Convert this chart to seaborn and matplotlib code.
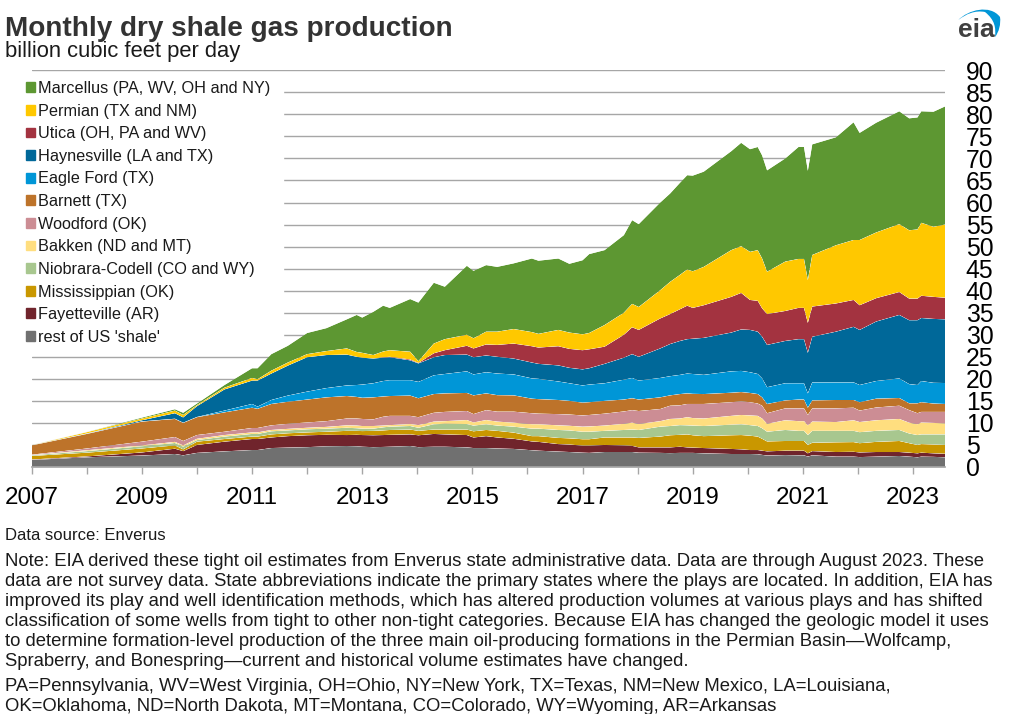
import numpy as np
import pandas as pd
import matplotlib
matplotlib.use("Agg")
import matplotlib.pyplot as plt
from matplotlib.patches import Patch, PathPatch, Rectangle
from matplotlib.path import Path
import seaborn as sns
import seaborn.objects as so

# months as decimal years, only the points
dates = [2007.00, 2008.00, 2009.00, 2009.60, 2009.75, 2010.00, 2010.50, 2011.00, 2011.10, 2011.35, 2011.65,
         2012.00, 2012.35, 2012.72, 2012.90, 2013.00, 2013.20, 2013.38, 2013.50, 2013.87, 2014.02, 2014.30,
         2014.50, 2014.90, 2015.02, 2015.25, 2015.45, 2015.75, 2016.08, 2016.20, 2016.56, 2016.76, 2017.00,
         2017.12, 2017.40, 2017.75, 2017.90, 2018.02, 2018.41, 2018.59, 2018.77, 2018.90, 2019.00, 2019.20,
         2019.70, 2019.88, 2020.04, 2020.18, 2020.26, 2020.35, 2020.68, 2020.92, 2021.02, 2021.09, 2021.17,
         2021.60, 2021.92, 2022.03, 2022.33, 2022.75, 2022.93, 2023.08, 2023.15, 2023.37, 2023.58]

# upper edge of each band (Bcf/d)
rest_top = [1.6, 2.2, 2.6, 2.95, 2.65, 3.2, 3.55, 3.85, 3.85, 4.3, 4.4,
            4.5, 4.7, 4.76, 4.7, 4.6, 4.5, 4.55, 4.6, 4.76, 4.5, 4.6,
            4.6, 4.45, 4.3, 4.3, 4.2, 4.1, 3.8, 3.7, 3.5, 3.4, 3.25,
            3.2, 3.4, 3.4, 3.4, 3.25, 3.2, 3.15, 3.2, 3.2, 3.2, 3.1,
            2.95, 2.95, 2.95, 2.9, 2.75, 2.6, 2.7, 2.65, 2.65, 2.35, 2.65,
            2.35, 2.35, 2.25, 2.35, 2.5, 2.35, 2.2, 2.35, 2.3, 2.2]
fayetteville_top = [1.7, 2.4, 3.3, 4.15, 3.6, 5.0, 5.75, 6.35, 6.35, 6.7, 7.0,
                    7.2, 7.3, 7.25, 7.3, 7.25, 7.2, 7.25, 7.3, 7.4, 7.2, 7.5,
                    7.4, 7.25, 6.7, 7.0, 6.7, 6.4, 5.8, 5.7, 5.2, 5.1, 4.85,
                    4.85, 5.0, 4.9, 4.8, 4.45, 4.45, 4.45, 4.6, 4.45, 4.4, 4.3,
                    4.1, 4.0, 3.85, 3.85, 3.7, 3.55, 3.7, 3.7, 3.7, 3.1, 3.6,
                    3.4, 3.45, 3.3, 3.4, 3.4, 3.25, 3.1, 3.25, 3.1, 3.0]
mississippian_top = [2.5, 3.25, 4.2, 4.9, 4.0, 5.75, 6.35, 6.9, 6.9, 7.4, 7.65,
                     7.85, 8.0, 8.2, 8.2, 8.15, 8.2, 8.3, 8.4, 8.5, 8.2, 8.5,
                     8.5, 8.5, 8.1, 8.4, 8.2, 7.8, 7.0, 7.0, 6.6, 6.5, 6.3,
                     6.3, 6.7, 6.7, 6.7, 6.6, 6.9, 7.2, 7.3, 7.4, 7.2, 7.0,
                     7.2, 7.25, 7.1, 6.9, 6.4, 5.8, 5.9, 5.9, 5.9, 5.0, 5.5,
                     5.6, 5.65, 5.4, 5.7, 5.9, 5.4, 5.0, 5.2, 5.1, 5.0]
niobrara_top = [2.65, 3.6, 4.7, 5.45, 4.6, 6.1, 6.9, 7.5, 7.5, 8.1, 8.3,
                8.55, 8.7, 8.9, 8.8, 8.7, 8.7, 9.0, 9.15, 9.3, 8.9, 9.7,
                9.8, 9.75, 9.4, 9.7, 9.4, 9.15, 8.7, 8.7, 8.4, 8.3, 8.0,
                8.0, 8.2, 8.4, 8.5, 8.4, 9.15, 9.3, 9.5, 9.45, 9.4, 9.3,
                9.6, 9.7, 9.5, 9.3, 8.8, 8.0, 8.4, 8.2, 8.2, 7.25, 8.2,
                8.2, 8.2, 7.9, 8.2, 8.4, 7.6, 7.25, 7.4, 7.4, 7.4]
bakken_top = [2.7, 3.8, 4.9, 5.7, 4.9, 6.4, 7.25, 7.85, 7.85, 8.4, 8.65,
              8.9, 9.1, 9.45, 9.4, 9.3, 9.3, 9.4, 9.5, 9.75, 9.5, 10.3,
              10.4, 10.65, 10.1, 10.65, 10.3, 10.05, 9.7, 9.7, 9.45, 9.35, 9.15,
              9.2, 9.4, 9.8, 10.05, 9.75, 10.4, 10.9, 11.0, 11.3, 11.1, 11.0,
              11.6, 11.8, 11.7, 11.6, 11.0, 9.8, 10.6, 10.4, 10.4, 9.45, 10.3,
              10.2, 10.6, 10.2, 10.6, 10.9, 10.05, 9.7, 10.1, 10.0, 9.9]
woodford_top = [2.8, 4.2, 5.75, 6.8, 5.9, 7.25, 8.0, 8.85, 8.85, 9.45, 9.8,
                10.1, 10.4, 11.0, 11.0, 10.9, 10.8, 11.4, 11.6, 11.6, 11.3, 12.3,
                12.5, 12.7, 12.0, 12.9, 12.55, 12.55, 12.2, 12.1, 12.0, 11.9, 11.7,
                11.8, 12.1, 12.6, 12.9, 12.7, 13.15, 13.9, 14.0, 14.3, 14.3, 14.3,
                14.7, 14.9, 14.7, 14.4, 13.9, 12.2, 13.3, 13.3, 13.3, 11.8, 13.3,
                13.3, 13.45, 12.8, 13.5, 13.9, 12.9, 12.2, 12.5, 12.5, 12.5]
barnett_top = [4.9, 7.5, 10.3, 10.9, 10.0, 11.3, 12.4, 13.45, 13.2, 14.3, 14.8,
               15.3, 15.8, 16.1, 15.9, 15.7, 15.8, 16.0, 16.1, 16.2, 15.6, 16.55,
               16.7, 16.8, 16.25, 16.7, 16.3, 16.25, 15.5, 15.4, 15.2, 15.0, 14.6,
               14.7, 15.0, 15.3, 15.6, 15.3, 15.8, 16.25, 16.55, 16.7, 16.6, 16.55,
               16.85, 17.0, 16.8, 16.55, 15.8, 14.3, 15.1, 15.3, 15.3, 13.45, 15.1,
               15.2, 15.2, 14.7, 15.5, 15.65, 14.45, 14.45, 14.7, 14.4, 14.3]
eagle_ford_top = [4.9, 7.55, 10.35, 10.95, 10.05, 11.35, 12.8, 14.3, 13.7, 15.2, 16.2,
                  17.1, 17.9, 18.5, 18.6, 18.7, 19.0, 19.5, 19.7, 19.7, 19.3, 20.8,
                  21.1, 21.7, 21.0, 21.5, 21.2, 21.0, 20.1, 20.0, 19.4, 19.0, 18.5,
                  18.7, 19.0, 19.8, 20.2, 19.6, 20.2, 20.6, 20.9, 21.2, 21.1, 20.9,
                  21.7, 21.8, 21.5, 21.1, 20.1, 18.1, 19.0, 19.0, 19.0, 16.7, 19.2,
                  19.2, 19.2, 18.6, 19.5, 20.1, 18.8, 18.6, 19.5, 19.1, 19.05]
haynesville_top = [4.92, 7.6, 10.6, 12.2, 11.25, 13.8, 17.6, 19.6, 19.6, 21.2, 23.0,
                   24.9, 25.4, 25.5, 25.0, 24.8, 24.6, 24.8, 24.9, 24.2, 23.5, 24.9,
                   25.4, 25.5, 24.9, 25.3, 25.0, 24.6, 23.7, 23.4, 23.05, 22.5, 22.15,
                   22.4, 23.4, 24.8, 25.6, 25.0, 26.9, 27.9, 28.6, 29.0, 29.1, 29.3,
                   30.5, 31.2, 31.1, 30.7, 29.55, 27.7, 28.6, 29.0, 29.0, 25.9, 29.55,
                   30.7, 31.8, 31.1, 33.0, 34.5, 33.3, 33.3, 33.8, 33.6, 33.5]
utica_top = [4.92, 7.6, 10.6, 12.2, 11.25, 13.8, 17.6, 19.6, 19.6, 21.2, 23.0,
             24.9, 25.4, 25.5, 25.0, 24.8, 24.6, 24.9, 25.0, 24.4, 23.6, 25.8,
             26.5, 27.5, 26.9, 27.8, 27.7, 28.0, 27.4, 27.1, 27.4, 26.8, 26.5,
             26.7, 27.3, 30.0, 31.7, 31.1, 33.7, 34.7, 35.8, 36.6, 36.1, 36.7,
             38.6, 39.5, 37.9, 37.7, 36.0, 34.7, 35.4, 36.1, 36.1, 32.7, 36.4,
             37.1, 37.9, 36.7, 38.3, 39.7, 38.2, 38.2, 38.85, 38.6, 38.4]
permian_top = [4.95, 7.9, 11.0, 12.8, 11.8, 14.05, 18.0, 20.2, 19.9, 21.85, 23.7,
               25.6, 26.3, 26.9, 26.1, 25.9, 25.4, 26.2, 26.5, 26.15, 24.0, 28.0,
               29.0, 30.0, 29.2, 30.7, 30.7, 31.3, 30.6, 30.2, 31.1, 30.5, 30.1,
               30.4, 32.2, 35.0, 37.0, 36.3, 40.1, 42.0, 43.6, 44.8, 44.4, 45.4,
               49.2, 50.1, 48.8, 49.2, 47.3, 44.3, 46.6, 47.2, 47.2, 42.4, 48.1,
               50.3, 51.5, 51.5, 53.2, 55.1, 53.7, 53.9, 55.4, 54.5, 55.0]
marcellus_top = [5.0, 7.95, 11.2, 13.1, 12.3, 14.4, 18.6, 22.4, 22.4, 25.6, 27.5,
                 30.4, 31.5, 33.5, 34.5, 33.9, 35.2, 36.6, 36.1, 38.1, 37.3, 41.8,
                 40.9, 45.65, 44.5, 45.8, 45.4, 46.2, 47.3, 46.8, 47.3, 46.1, 46.9,
                 48.3, 49.2, 52.6, 56.0, 55.1, 60.0, 62.05, 64.5, 66.2, 66.1, 67.0,
                 71.65, 73.55, 72.1, 72.6, 70.7, 67.3, 70.0, 72.6, 72.6, 67.2, 73.2,
                 74.8, 78.2, 75.8, 78.1, 80.7, 79.1, 79.3, 80.7, 80.6, 81.8]

# bottom of the stack first
plays = ["rest of US 'shale'", "Fayetteville (AR)", "Mississippian (OK)", "Niobrara-Codell (CO and WY)",
         "Bakken (ND and MT)", "Woodford (OK)", "Barnett (TX)", "Eagle Ford (TX)",
         "Haynesville (LA and TX)", "Utica (OH, PA and WV)", "Permian (TX and NM)", "Marcellus (PA, WV, OH and NY)"]
colors = ["#707070", "#70242c", "#c99700", "#a8c78f", "#ffde7f", "#cc8d94",
          "#bd732a", "#0096d7", "#006899", "#a33340", "#ffc800", "#5d9732"]
tops = [rest_top, fayetteville_top, mississippian_top, niobrara_top, bakken_top, woodford_top,
        barnett_top, eagle_ford_top, haynesville_top, utica_top, permian_top, marcellus_top]

y_ticks = list(range(0, 95, 5))
year_ticks = list(range(2007, 2024))
note_lines = [
    "Note: EIA derived these tight oil estimates from Enverus state administrative data. Data are through August 2023. These",
    "data are not survey data. State abbreviations indicate the primary states where the plays are located. In addition, EIA has",
    "improved its play and well identification methods, which has altered production volumes at various plays and has shifted",
    "classification of some wells from tight to other non-tight categories. Because EIA has changed the geologic model it uses",
    "to determine formation-level production of the three main oil-producing formations in the Permian Basin\u2014Wolfcamp,",
    "Spraberry, and Bonespring\u2014current and historical volume estimates have changed.",
]
abbrev_lines = [
    "PA=Pennsylvania, WV=West Virginia, OH=Ohio, NY=New York, TX=Texas, NM=New Mexico, LA=Louisiana,",
    "OK=Oklahoma, ND=North Dakota, MT=Montana, CO=Colorado, WY=Wyoming, AR=Arkansas",
]

# long table of band heights for seaborn's Stack move
frames = []
previous = np.zeros(len(dates))
for play, top in zip(plays, tops):
    top = np.array(top)
    frames.append(pd.DataFrame({"date": dates, "value": top - previous, "play": play}))
    previous = top
df = pd.concat(frames, ignore_index=True)

sns.set_theme(style="white")
plt.rcParams["font.family"] = ["Liberation Sans", "DejaVu Sans"]

W, H = 1009, 714
GRID = "#a6a6a6"
fig = plt.figure(figsize=(W / 100, H / 100), dpi=100)
ax = fig.add_axes([31.7 / W, (H - 467) / H, (945 - 31.7) / W, (467 - 70.3) / H])

(
    so.Plot(df, x="date", y="value", color="play")
    .add(so.Area(alpha=1, edgewidth=0), so.Stack(), legend=False)
    .scale(color=dict(zip(plays, colors)))
    .limit(x=(2007, 2023.58), y=(0, 90))
    .label(x="", y="")
    .on(ax)
    .plot()
)

ax.set_facecolor("white")
ax.set_yticks(y_ticks)
ax.set_xticks(year_ticks)
ax.set_xticklabels([str(y) if y % 2 else "" for y in year_ticks])
ax.yaxis.tick_right()
ax.set_axisbelow(True)
ax.grid(axis="y", color=GRID, linewidth=1)
ax.grid(axis="x", visible=False)
ax.tick_params(axis="y", length=0, pad=15, labelsize=17.8, labelcolor="black")
ax.tick_params(axis="x", length=5, width=1, color=GRID, pad=9.2, labelsize=17.4, labelcolor="black", bottom=True)
sns.despine(ax=ax, left=True, right=True, top=True)
ax.spines["bottom"].set_color(GRID)

# white block behind the legend hides the gridlines there
ax.add_patch(Rectangle((2006, 26.5), 2011.56 - 2006, 61.5, color="white", zorder=0.9, clip_on=True))

handles = [Patch(color=c, label=p) for p, c in zip(plays[::-1], colors[::-1])]
leg = ax.legend(handles=handles, loc="upper left", bbox_to_anchor=(26 / W, 1 - 81 / H), bbox_transform=fig.transFigure,
                frameon=False, fontsize=11.66, borderpad=0, borderaxespad=0, labelspacing=0.47,
                handlelength=0.56, handleheight=0.56, handletextpad=0.19)
for t in leg.get_texts():
    t.set_color("#1a1a1a")

# overlay in pixel coordinates for the header, footer and logo
over = fig.add_axes([0, 0, 1, 1], facecolor="none")
over.set_xlim(0, W)
over.set_ylim(H, 0)
over.axis("off")
over.text(5, 29.5, "Monthly dry shale gas production", fontsize=20.1, fontweight="bold", color="#333333", va="center")
over.text(5, 52, "billion cubic feet per day", fontsize=15.8, color="#1a1a1a", va="center")
over.text(5, 536, "Data source: Enverus", fontsize=12.0, color="#1a1a1a", va="center")
for i, line in enumerate(note_lines):
    over.text(5, 561.5 + i * 20, line, fontsize=13.35, color="#1a1a1a", va="center")
for i, line in enumerate(abbrev_lines):
    over.text(5, 686.5 + i * 20, line, fontsize=13.3, color="#1a1a1a", va="center")

# eia logo
over.text(976, 30, "eia", fontsize=19, fontweight="bold", color="#404040", ha="center", va="center")
arc = Path([(958.3, 20), (968, 10), (990, 4), (1000, 17), (1001, 24), (999, 32), (995, 37),
            (996, 28), (995, 20), (985, 12), (975, 10), (966, 14), (958.3, 20)],
           [Path.MOVETO, Path.CURVE4, Path.CURVE4, Path.CURVE4, Path.CURVE4, Path.CURVE4, Path.CURVE4,
            Path.CURVE4, Path.CURVE4, Path.CURVE4, Path.CURVE4, Path.CURVE4, Path.CURVE4])
over.add_patch(PathPatch(arc, facecolor="#0096d7", edgecolor="none"))

fig.savefig("out.png", dpi=100)
